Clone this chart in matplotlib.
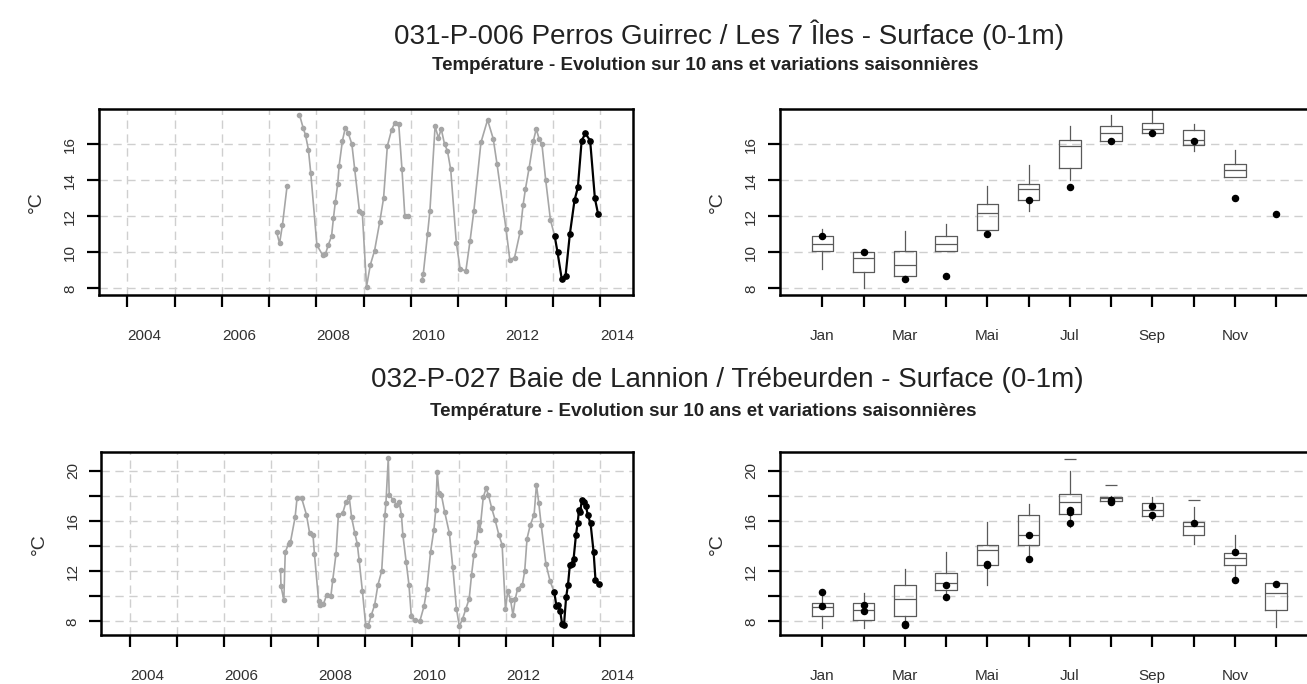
import numpy as np
import matplotlib
matplotlib.use("Agg")
import matplotlib.pyplot as plt
import matplotlib.transforms as mtransforms

plt.rcParams['font.family'] = ['Liberation Sans', 'DejaVu Sans']

# ---------------- DATA ----------------
title1 = "031-P-006 Perros Guirrec / Les 7 Îles - Surface (0-1m)"
title2 = "032-P-027 Baie de Lannion / Trébeurden - Surface (0-1m)"
subtitle = "Température - Evolution sur 10 ans et variations saisonnières"
ylabel = "°C"
month_labels = ["Jan", "", "Mar", "", "Mai", "", "Jul", "", "Sep", "", "Nov", ""]
year_ticks = list(range(2004, 2015))
year_labels = ["2004", "", "2006", "", "2008", "", "2010", "", "2012", "", "2014"]

# Station 1 : history (decimal year, value); NaN = gap
s1_hist_t = [2007.16, 2007.22, 2007.28, 2007.38, 2007.50,
             2007.64, 2007.72, 2007.77, 2007.83, 2007.88, 2008.01, 2008.13, 2008.19,
             2008.25, 2008.32, 2008.36, 2008.40, 2008.45, 2008.48, 2008.55, 2008.61,
             2008.67, 2008.75, 2008.81, 2008.91, 2008.97, 2009.06, 2009.14, 2009.23,
             2009.34, 2009.42, 2009.50, 2009.59, 2009.66, 2009.74, 2009.81, 2009.87,
             2009.93, 2010.10,
             2010.23, 2010.26, 2010.35, 2010.40, 2010.51, 2010.58, 2010.64, 2010.71,
             2010.77, 2010.84, 2010.96, 2011.04, 2011.16, 2011.25, 2011.33, 2011.48,
             2011.62, 2011.74, 2011.82, 2012.01, 2012.09, 2012.19, 2012.31, 2012.37,
             2012.42, 2012.50, 2012.59, 2012.65, 2012.71, 2012.77, 2012.85, 2012.95]
s1_hist_v = [11.1, 10.5, 11.5, 13.7, np.nan,
             17.65, 16.9, 16.5, 15.7, 14.4, 10.4, 9.85, 9.9,
             10.4, 10.9, 11.9, 12.8, 13.8, 14.8, 16.2, 16.9,
             16.65, 16.0, 14.6, 12.3, 12.2, 8.1, 9.3, 10.1,
             11.7, 13.0, 15.9, 16.8, 17.2, 17.15, 14.6, 12.0,
             12.0, np.nan,
             8.45, 8.8, 11.0, 12.3, 17.0, 16.35, 16.85, 16.0,
             15.65, 14.6, 10.5, 9.1, 8.95, 10.65, 12.3, 16.1,
             17.35, 16.3, 14.9, 11.3, 9.6, 9.7, 11.15, 12.6,
             13.5, 14.7, 16.2, 16.85, 16.3, 16.0, 14.0, 11.8]
# Station 1 : year 2013
s1_2013_t = [2013.04, 2013.10, 2013.19, 2013.27, 2013.36, 2013.46,
             2013.53, 2013.61, 2013.69, 2013.79, 2013.89, 2013.96]
s1_2013_v = [10.9, 10.0, 8.5, 8.7, 11.0, 12.9, 13.6, 16.2, 16.6, 16.2, 13.0, 12.1]

# Station 1 : monthly box statistics (previous years)
s1_q1 = [10.10, 8.90, 8.70, 10.10, 11.26, 12.89, 14.70, 16.19, 16.60, 15.96, 14.18, np.nan]
s1_med = [10.46, 9.71, 9.30, 10.46, 12.19, 13.53, 15.90, 16.60, 16.87, 16.22, 14.57, np.nan]
s1_q3 = [10.88, 10.00, 10.10, 10.88, 12.70, 13.77, 16.22, 16.99, 17.20, 16.78, 14.88, np.nan]
s1_lo = [9.10, 8.00, 8.50, 10.10, 11.26, 12.30, 14.00, 16.19, 16.60, 15.60, 14.18, np.nan]
s1_hi = [11.30, 10.00, 11.20, 11.55, 13.70, 14.85, 17.00, 17.60, 17.88, 17.10, 15.70, np.nan]
s1_out = [[], [], [], [], [], [], [], [], [], [], [], []]

# Station 2 : history
s2_hist_t = [2007.20, 2007.21, 2007.27, 2007.30, 2007.37, 2007.41, 2007.51, 2007.55,
             2007.65, 2007.75, 2007.82, 2007.89, 2007.92, 2008.01, 2008.04, 2008.11,
             2008.18, 2008.27, 2008.31, 2008.38, 2008.43, 2008.52, 2008.59, 2008.66,
             2008.71, 2008.78, 2008.83, 2008.87, 2008.94, 2009.01, 2009.06, 2009.13,
             2009.20, 2009.27, 2009.35, 2009.42, 2009.44, 2009.49, 2009.51, 2009.59,
             2009.66, 2009.72, 2009.77, 2009.80, 2009.87, 2009.93, 2009.98, 2010.06,
             2010.16, 2010.25, 2010.31, 2010.39, 2010.46, 2010.50, 2010.53, 2010.57,
             2010.62, 2010.69, 2010.79, 2010.86, 2010.94, 2011.00, 2011.07, 2011.14,
             2011.21, 2011.26, 2011.31, 2011.36, 2011.41, 2011.44, 2011.51, 2011.57,
             2011.62, 2011.69, 2011.76, 2011.84, 2011.91, 2011.98, 2012.03, 2012.09,
             2012.14, 2012.19, 2012.24, 2012.34, 2012.39, 2012.44, 2012.51, 2012.59,
             2012.64, 2012.69, 2012.74, 2012.84, 2012.93]
s2_hist_v = [12.1, 10.8, 9.7, 13.5, 14.2, 14.3, 16.3, 17.8,
             17.8, 16.5, 15.0, 14.9, 13.4, 9.6, 9.3, 9.35,
             10.1, 10.0, 11.3, 13.4, 16.5, 16.6, 17.5, 17.9,
             16.3, 15.0, 14.2, 12.9, 10.4, 7.7, 7.6, 8.5,
             9.3, 10.9, 12.0, 16.5, 17.4, 21.0, 18.1, 17.7,
             17.3, 17.5, 16.5, 14.9, 12.75, 10.9, 8.4, 8.1,
             8.0, 9.2, 10.6, 13.55, 15.3, 16.9, 19.9, 18.2,
             18.06, 16.7, 15.0, 12.35, 9.0, 7.6, 8.2, 9.0,
             9.8, 11.7, 13.3, 14.3, 15.9, 15.3, 17.9, 18.6,
             18.06, 17.0, 16.1, 14.9, 14.1, 9.0, 10.4, 9.7,
             8.5, 9.8, 10.6, 10.9, 12.0, 14.6, 15.7, 16.5,
             18.9, 17.4, 15.7, 12.6, 11.2]
# Station 2 : year 2013
s2_2013_t = [2013.020, 2013.065, 2013.100, 2013.145, 2013.185, 2013.225, 2013.270,
             2013.310, 2013.350, 2013.390, 2013.430, 2013.480, 2013.515, 2013.545,
             2013.570, 2013.605, 2013.645, 2013.690, 2013.730, 2013.790, 2013.855,
             2013.895, 2013.960]
s2_2013_v = [10.3, 9.2, 9.3, 8.8, 7.8, 7.7, 9.9,
             10.9, 12.5, 12.6, 13.0, 14.9, 15.8, 16.9,
             16.7, 17.7, 17.5, 17.2, 16.5, 15.8, 13.5,
             11.3, 11.0]

# Station 2 : monthly box statistics
s2_q1 = [8.45, 8.10, 8.45, 10.50, 12.49, 14.08, 16.55, 17.61, 16.39, 14.88, 12.49, 8.90]
s2_med = [9.17, 8.90, 9.75, 11.08, 13.68, 14.88, 17.53, 17.80, 16.90, 15.60, 13.02, 10.23]
s2_q3 = [9.49, 9.49, 10.90, 11.82, 14.08, 16.47, 18.11, 17.93, 17.40, 15.94, 13.42, 11.03]
s2_lo = [7.44, 7.44, 7.70, 9.70, 10.90, 12.94, 15.54, 17.50, 16.07, 14.20, 11.29, 7.58]
s2_hi = [10.36, 10.28, 12.14, 13.55, 15.94, 17.32, 20.00, 18.00, 17.88, 17.13, 14.88, 11.16]
s2_out = [[], [], [], [], [], [], [20.93], [18.86], [], [17.66], [], []]

# ---------------- STYLE ----------------
W, H = 1307, 684
GRAY = "#a6a6a6"
GRID = "#cfcfcf"
BOXC = "#5a5a5a"
TXT = "#303030"

fig = plt.figure(figsize=(W / 100, H / 100), dpi=100)


def px_axes(x0, y0, x1, y1):
    return fig.add_axes([x0 / W, 1 - y1 / H, (x1 - x0) / W, (y1 - y0) / H])


def style_axes(ax, yticks, ylabels, ylim):
    ax.set_ylim(*ylim)
    ax.set_yticks(yticks)
    ax.set_yticklabels(ylabels)
    for s in ax.spines.values():
        s.set_linewidth(1.8)
        s.set_color("black")
    ax.tick_params(axis='both', length=8.5, width=1.6, color='black',
                   labelsize=11, labelcolor=TXT)
    ax.tick_params(axis='x', pad=16)
    ax.tick_params(axis='y', pad=7)
    for lab in ax.get_yticklabels():
        lab.set_rotation(90)
        lab.set_va('center')
    for y in yticks:
        ax.axhline(y, color=GRID, lw=1.0, ls=(0, (6, 4)), zorder=0)
    ax.set_ylabel(ylabel, fontsize=14, color=TXT, labelpad=13)


def time_panel(ax, ht, hv, ct, cv, yticks, ylabels, ylim):
    ax.set_xlim(2003.39, 2014.69)
    for yr in year_ticks:
        ax.axvline(yr, color=GRID, lw=1.0, ls=(0, (6, 4)), zorder=0)
    t_gray = list(ht) + [ct[0]]
    v_gray = list(hv) + [cv[0]]
    ax.plot(t_gray, v_gray, color=GRAY, lw=1.2, marker='o', ms=3.0,
            mfc=GRAY, mec=GRAY, zorder=2)
    ax.plot(ct, cv, color='black', lw=1.6, marker='o', ms=3.8, zorder=3)
    ax.set_xticks(year_ticks)
    ax.set_xticklabels(year_labels)
    style_axes(ax, yticks, ylabels, ylim)
    off = mtransforms.ScaledTranslation(17 / 100, 0, fig.dpi_scale_trans)
    for lab in ax.get_xticklabels():
        lab.set_transform(lab.get_transform() + off)


def box_panel(ax, q1, med, q3, lo, hi, out, ct, cv, yticks, ylabels, ylim):
    stats = []
    pos = []
    for i in range(12):
        if np.isnan(med[i]):
            continue
        stats.append(dict(q1=q1[i], med=med[i], q3=q3[i], whislo=lo[i],
                          whishi=hi[i], fliers=out[i]))
        pos.append(i + 1)
    ax.bxp(stats, positions=pos, widths=0.52, showcaps=False,
           boxprops=dict(color=BOXC, lw=0.9),
           whiskerprops=dict(color=BOXC, lw=0.9),
           medianprops=dict(color=BOXC, lw=0.9),
           flierprops=dict(marker='_', markersize=9, mec=BOXC, mew=0.9),
           manage_ticks=False, zorder=2)
    months = [int((t - 2013) * 12) + 1 for t in ct]
    ax.plot(months, cv, ls='none', marker='o', ms=4.4, color='black', zorder=3)
    ax.set_xlim(-0.035, 13.5)
    ax.set_xticks(range(1, 13))
    ax.set_xticklabels(month_labels)
    style_axes(ax, yticks, ylabels, ylim)


# Top row
ax1 = px_axes(98.5, 109.3, 632.7, 295)
time_panel(ax1, s1_hist_t, s1_hist_v, s1_2013_t, s1_2013_v,
           [8, 10, 12, 14, 16], ["8", "10", "12", "14", "16"], (7.63, 17.94))
ax2 = px_axes(779.6, 109.3, 1338, 295)
box_panel(ax2, s1_q1, s1_med, s1_q3, s1_lo, s1_hi, s1_out, s1_2013_t, s1_2013_v,
          [8, 10, 12, 14, 16], ["8", "10", "12", "14", "16"], (7.63, 17.94))

# Bottom row
yt2 = [8, 10, 12, 14, 16, 18, 20]
yl2 = ["8", "", "12", "", "16", "", "20"]
ax3 = px_axes(101.3, 452.3, 632.9, 635)
time_panel(ax3, s2_hist_t, s2_hist_v, s2_2013_t, s2_2013_v, yt2, yl2, (6.91, 21.47))
ax4 = px_axes(779.6, 452.3, 1338, 635)
box_panel(ax4, s2_q1, s2_med, s2_q3, s2_lo, s2_hi, s2_out, s2_2013_t, s2_2013_v,
          yt2, yl2, (6.91, 21.47))

# Titles
fig.text(729.5 / W, 1 - 35 / H, title1, ha='center', va='center', fontsize=20, color='#222222')
fig.text(705.6 / W, 1 - 65 / H, subtitle, ha='center', va='center', fontsize=13.5,
         fontweight='bold', color='#222222')
fig.text(727 / W, 1 - 380 / H, title2, ha='center', va='center', fontsize=20, color='#222222')
fig.text(703 / W, 1 - 411 / H, subtitle, ha='center', va='center', fontsize=13.5,
         fontweight='bold', color='#222222')

fig.savefig("out.png", dpi=100)
